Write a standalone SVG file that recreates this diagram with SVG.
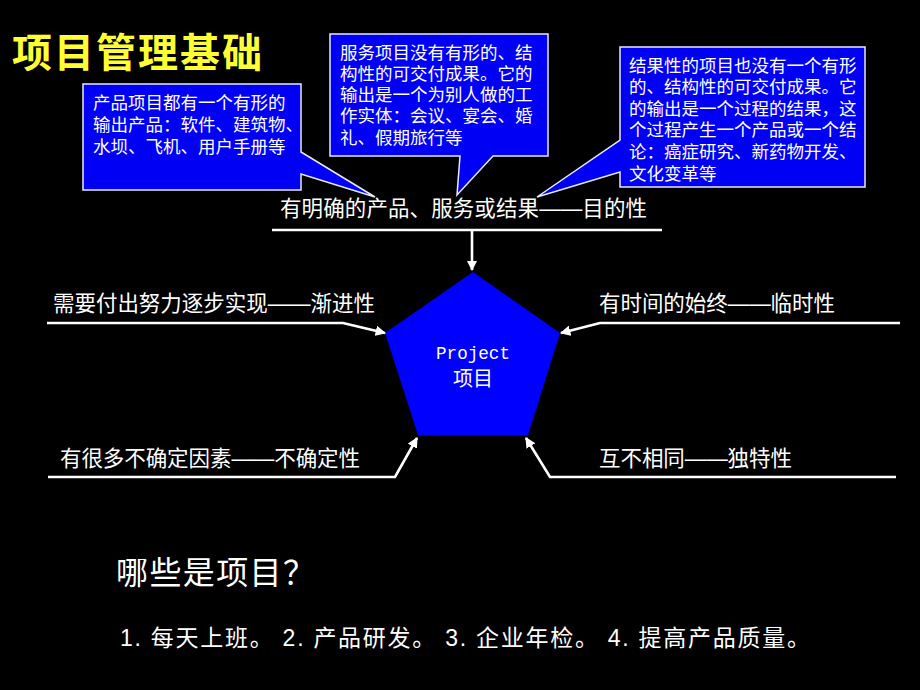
<svg xmlns="http://www.w3.org/2000/svg" width="920" height="690" viewBox="0 0 920 690">
<defs>
<style>
.cjk{font-family:"Liberation Sans","Noto Sans CJK SC",sans-serif;fill:#fff}
.co{font-size:17.5px}
.lab{font-size:21.5px}
.callout{fill:#0000f5;stroke:#e8e8ff;stroke-width:1.5}
.con{fill:none;stroke:#fff;stroke-width:2.6}
</style>
<marker id="ah" viewBox="0 0 10 10" refX="9" refY="5" markerWidth="4" markerHeight="4" orient="auto" markerUnits="strokeWidth">
<path d="M0,0 L10,5 L0,10 Z" fill="#fff"/>
</marker>
</defs>
<rect x="0" y="0" width="920" height="690" fill="#000"/>

<g id="title">
<text x="12" y="67" class="cjk" style="fill:#ffff33;font-size:40px;font-weight:bold" textLength="250">项目管理基础</text>
</g>

<g id="callout-product">
<path class="callout" d="M83,84 H301 V152 L375,197 L301,174 V190 H83 Z"/>
<text class="cjk co"><tspan x="93" y="108.5">产品项目都有一个有形的</tspan><tspan x="93" y="130.5">输出产品：软件、建筑物、</tspan><tspan x="93" y="152.5">水坝、飞机、用户手册等</tspan></text>
</g>

<g id="callout-service">
<path class="callout" d="M330,34 H548 V156 H493 L457,195 L460,156 H330 Z"/>
<text class="cjk co"><tspan x="340" y="58.5">服务项目没有有形的、结</tspan><tspan x="340" y="79.8">构性的可交付成果。它的</tspan><tspan x="340" y="101.1">输出是一个为别人做的工</tspan><tspan x="340" y="122.4">作实体：会议、宴会、婚</tspan><tspan x="340" y="143.7">礼、假期旅行等</tspan></text>
</g>

<g id="callout-result">
<path class="callout" d="M620,47 H865 V187 H620 V172 L537,197 L620,140 Z"/>
<text class="cjk co"><tspan x="629" y="71.5">结果性的项目也没有一个有形</tspan><tspan x="629" y="93.1">的、结构性的可交付成果。它</tspan><tspan x="629" y="114.7">的输出是一个过程的结果，这</tspan><tspan x="629" y="136.3">个过程产生一个产品或一个结</tspan><tspan x="629" y="157.9">论：癌症研究、新药物开发、</tspan><tspan x="629" y="179.5">文化变革等</tspan></text>
</g>

<g id="purpose">
<text class="cjk lab" x="280" y="216" textLength="367">有明确的产品、服务或结果——目的性</text>
</g>

<g id="project">
<polygon points="473,272 560,333 528,435 418,435 385,333" fill="#0000ff"/>
<text x="473" y="359" text-anchor="middle" style="font-family:'Liberation Mono','DejaVu Sans Mono',monospace;font-size:17.6px;fill:#fff">Project</text>
<text x="473" y="386" text-anchor="middle" class="cjk" style="font-size:20px">项目</text>
</g>

<g id="progressive">
<text class="cjk lab" x="53" y="311" textLength="322">需要付出努力逐步实现——渐进性</text>
</g>
<g id="uncertain">
<text class="cjk lab" x="60" y="466" textLength="300">有很多不确定因素——不确定性</text>
</g>
<g id="temporary">
<text class="cjk lab" x="599" y="311" textLength="236">有时间的始终——临时性</text>
</g>
<g id="unique">
<text class="cjk lab" x="599" y="466" textLength="193">互不相同——独特性</text>
</g>

<g id="connectors">
<line class="con" x1="272" y1="230" x2="662" y2="230"/>
<line class="con" x1="472" y1="230" x2="472" y2="270" marker-end="url(#ah)"/>
<polyline class="con" points="47,323 343,323 385,333" marker-end="url(#ah)"/>
<polyline class="con" points="48,477 395,477 417,438" marker-end="url(#ah)"/>
<polyline class="con" points="900,323 600,323 561,333" marker-end="url(#ah)"/>
<polyline class="con" points="896,477 550,477 526,438" marker-end="url(#ah)"/>
</g>

<g id="question">
<text class="cjk" x="116" y="584" style="font-size:32px" textLength="199">哪些是项目？</text>
<text class="cjk" x="120" y="646" style="font-size:23px" textLength="690">1. 每天上班。 2. 产品研发。 3. 企业年检。 4. 提高产品质量。</text>
</g>
</svg>
